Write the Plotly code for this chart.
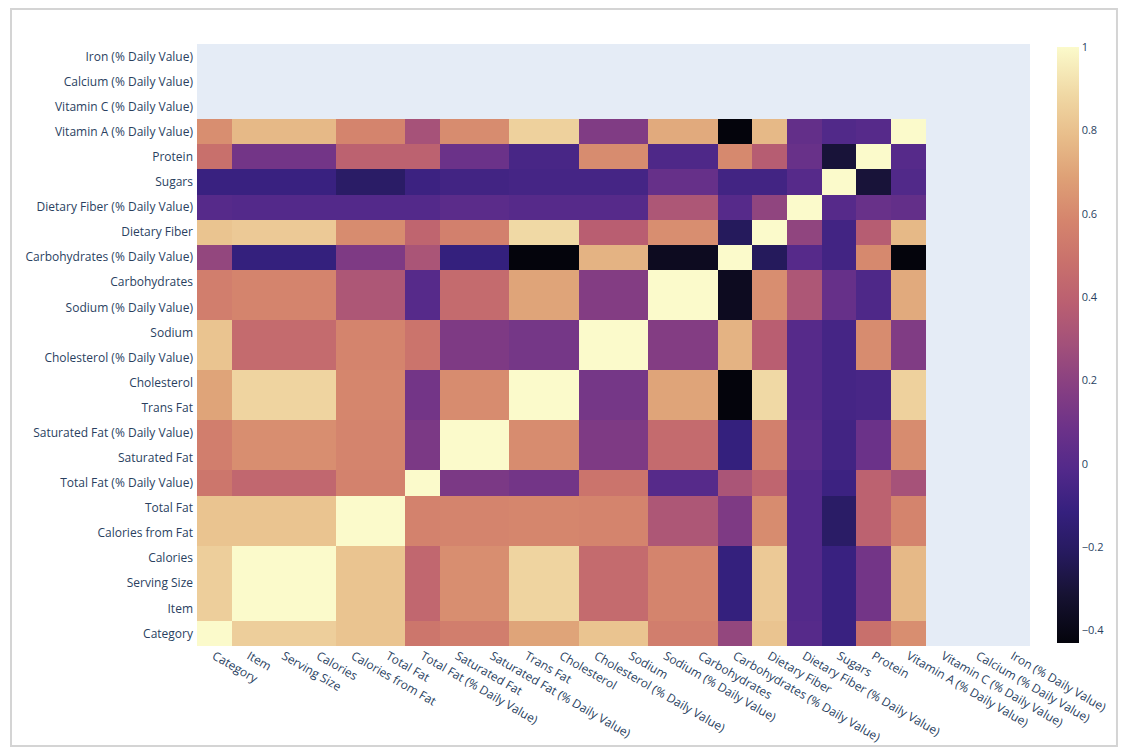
import plotly.graph_objects as go

# Nutrition columns shown on both axes (bottom-to-top on y, left-to-right on x)
labels = [
    "Category", "Item", "Serving Size", "Calories", "Calories from Fat",
    "Total Fat", "Total Fat (% Daily Value)", "Saturated Fat",
    "Saturated Fat (% Daily Value)", "Trans Fat", "Cholesterol",
    "Cholesterol (% Daily Value)", "Sodium", "Sodium (% Daily Value)",
    "Carbohydrates", "Carbohydrates (% Daily Value)", "Dietary Fiber",
    "Dietary Fiber (% Daily Value)", "Sugars", "Protein",
    "Vitamin A (% Daily Value)", "Vitamin C (% Daily Value)",
    "Calcium (% Daily Value)", "Iron (% Daily Value)",
]

N = None  # no correlation available

# Correlation matrix, one row per label (same order as `labels`)
corr = [
    [1.00, .85, .85, .85, .81, .81, .51, .55, .55, .70, .70, .81, .81, .55, .55, .23, .81, .00, -.10, .48, .62, N, N, N],
    [.85, 1.00, 1.00, 1.00, .81, .81, .43, .62, .62, .87, .87, .45, .45, .58, .58, -.12, .83, -.01, -.10, .11, .77, N, N, N],
    [.85, 1.00, 1.00, 1.00, .81, .81, .43, .62, .62, .87, .87, .45, .45, .58, .58, -.12, .83, -.01, -.10, .11, .77, N, N, N],
    [.85, 1.00, 1.00, 1.00, .81, .81, .43, .62, .62, .87, .87, .45, .45, .58, .58, -.12, .83, -.01, -.10, .11, .77, N, N, N],
    [.81, .81, .81, .81, 1.00, 1.00, .57, .58, .58, .59, .59, .58, .58, .33, .33, .15, .61, -.01, -.19, .40, .58, N, N, N],
    [.81, .81, .81, .81, 1.00, 1.00, .57, .58, .58, .59, .59, .58, .58, .33, .33, .15, .61, -.01, -.19, .40, .58, N, N, N],
    [.51, .43, .43, .43, .57, .57, 1.00, .14, .14, .11, .11, .50, .50, .00, .00, .32, .42, -.01, -.09, .40, .30, N, N, N],
    [.55, .62, .62, .62, .58, .58, .14, 1.00, 1.00, .61, .61, .15, .15, .45, .45, -.12, .56, .02, -.07, .08, .61, N, N, N],
    [.55, .62, .62, .62, .58, .58, .14, 1.00, 1.00, .61, .61, .15, .15, .45, .45, -.12, .56, .02, -.07, .08, .61, N, N, N],
    [.70, .87, .87, .87, .59, .59, .11, .61, .61, 1.00, 1.00, .12, .12, .70, .70, -.43, .89, .00, -.06, -.05, .86, N, N, N],
    [.70, .87, .87, .87, .59, .59, .11, .61, .61, 1.00, 1.00, .12, .12, .70, .70, -.43, .89, .00, -.06, -.05, .86, N, N, N],
    [.81, .45, .45, .45, .58, .58, .50, .15, .15, .12, .12, 1.00, 1.00, .17, .17, .75, .38, .00, -.06, .61, .16, N, N, N],
    [.81, .45, .45, .45, .58, .58, .50, .15, .15, .12, .12, 1.00, 1.00, .17, .17, .75, .38, .00, -.06, .61, .16, N, N, N],
    [.55, .58, .58, .58, .33, .33, .00, .45, .45, .70, .70, .17, .17, 1.00, 1.00, -.37, .62, .33, .06, -.03, .72, N, N, N],
    [.55, .58, .58, .58, .33, .33, .00, .45, .45, .70, .70, .17, .17, 1.00, 1.00, -.37, .62, .33, .06, -.03, .72, N, N, N],
    [.23, -.12, -.12, -.12, .15, .15, .32, -.12, -.12, -.43, -.43, .75, .75, -.37, -.37, 1.00, -.22, .00, -.07, .60, -.43, N, N, N],
    [.81, .83, .83, .83, .61, .61, .42, .56, .56, .89, .89, .38, .38, .62, .62, -.22, 1.00, .22, -.07, .37, .77, N, N, N],
    [.00, -.01, -.01, -.01, -.01, -.01, -.01, .02, .02, .00, .00, .00, .00, .33, .33, .00, .22, 1.00, .00, .07, .05, N, N, N],
    [-.10, -.10, -.10, -.10, -.19, -.19, -.09, -.07, -.07, -.06, -.06, -.06, -.06, .06, .06, -.07, -.07, .00, 1.00, -.30, -.02, N, N, N],
    [.48, .11, .11, .11, .40, .40, .40, .08, .08, -.05, -.05, .61, .61, -.03, -.03, .60, .37, .07, -.30, 1.00, .00, N, N, N],
    [.62, .77, .77, .77, .58, .58, .30, .61, .61, .86, .86, .16, .16, .72, .72, -.43, .77, .05, -.02, .00, 1.00, N, N, N],
    [N] * 24,
    [N] * 24,
    [N] * 24,
]

# Soft magma-style ramp: black -> indigo -> purple -> rose -> salmon -> cream
soft_magma = [
    [0.00, "#04040c"],
    [0.08, "#161232"],
    [0.15, "#261a5e"],
    [0.22, "#35207e"],
    [0.29, "#52298a"],
    [0.36, "#6c3289"],
    [0.43, "#873f82"],
    [0.50, "#a2507a"],
    [0.57, "#ba5f71"],
    [0.64, "#c9716c"],
    [0.71, "#d5856d"],
    [0.78, "#dea076"],
    [0.85, "#e8bd8a"],
    [0.92, "#f0d8a4"],
    [1.00, "#fbfacb"],
]

fig = go.Figure(
    go.Heatmap(
        z=corr,
        x=labels,
        y=labels,
        colorscale=soft_magma,
        colorbar=dict(thickness=22, ypad=3, tickfont=dict(size=11)),
    )
)

fig.update_layout(
    template="plotly",
    width=1123,
    height=749,
    margin=dict(l=197, r=93, t=44, b=103),
    font=dict(family="Open Sans", size=12, color="#2a3f5f"),
    paper_bgcolor="white",
    plot_bgcolor="#E5ECF6",
    shapes=[
        dict(
            type="rect", xref="paper", yref="paper",
            x0=-0.2233, x1=1.1044, y0=-0.1661, y1=1.0581,
            line=dict(color="#d4d4d4", width=2), layer="above",
        )
    ],
)
fig.update_xaxes(tickangle=30, automargin=False, showgrid=False)
fig.update_yaxes(automargin=False, showgrid=False, ticklabelstandoff=3)

fig.write_html("out.html")
